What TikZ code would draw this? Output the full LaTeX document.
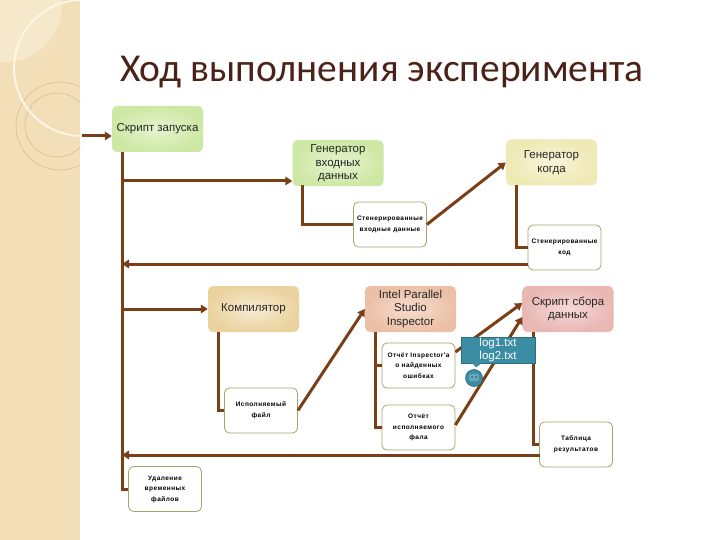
\documentclass[tikz,border=0pt]{standalone}
\usepackage{fontspec}
\setmainfont{Liberation Sans}
\newfontfamily\titlefont{Carlito}
\newfontfamily\smallfont[LetterSpace=7]{Liberation Sans}
\usetikzlibrary{arrows.meta,calc}
\definecolor{brn}{HTML}{7B3F17}
\definecolor{strip}{HTML}{F2DFB8}
\definecolor{stripdark}{HTML}{DCC39A}
\definecolor{cream}{HTML}{FDF6E6}
\definecolor{titlec}{HTML}{4A2217}
\definecolor{olivebd}{HTML}{A3A56C}
\definecolor{cgreen}{HTML}{CDE8A4}
\definecolor{cgreenl}{HTML}{E6F4CF}
\definecolor{cyel}{HTML}{EFE9B4}
\definecolor{cyell}{HTML}{F8F5DA}
\definecolor{ctan}{HTML}{EBD3A0}
\definecolor{ctanl}{HTML}{F7EBD2}
\definecolor{csal}{HTML}{ECC0A6}
\definecolor{csall}{HTML}{F6DDCF}
\definecolor{cpink}{HTML}{E9B7B4}
\definecolor{cpinkl}{HTML}{F5D9D6}
\definecolor{teal1}{HTML}{3B8DA4}
\definecolor{teal2}{HTML}{2A6E81}
\tikzset{
  big/.style={rounded corners=5pt, minimum width=91pt, minimum height=46pt,
    align=center, inner sep=2pt, text=black!85,
    font=\fontsize{11.5}{13.5}\selectfont},
  small/.style={draw=olivebd, line width=0.8pt, rounded corners=5pt, fill=white,
    minimum width=73pt, minimum height=45pt, align=center, inner sep=1pt,
    font=\smallfont\bfseries\fontsize{6.5}{10.5}\selectfont},
  conn/.style={draw=brn, line width=3pt},
  arr/.style={conn, -{Triangle[length=7pt,width=8.5pt]}},
}
\begin{document}
\begin{tikzpicture}[x=1pt,y=-1pt]
\useasboundingbox (0,0) rectangle (720,540);
\fill[white] (0,0) rectangle (720,540);
% decorative strip
\fill[strip] (0,0) rectangle (80,540);
\begin{scope}
  \clip (0,0) rectangle (80,540);
  \fill[cream,opacity=0.4] (5,5) circle (57);
  \draw[stripdark,line width=0.8pt] (60,126) circle (44);
  \draw[stripdark,line width=0.8pt] (57,125) circle (32);
  \draw[cream,line width=2pt] (82,68) circle (68);
\end{scope}
% title
\node[anchor=base west, text=titlec, inner sep=0pt,
  font=\titlefont\fontsize{39.5}{44}\selectfont] (title) at (120,82)
  {Ход выполнения эксперимента};
% main boxes
\node[big, inner color=cgreenl, outer color=cgreen] (zap) at (157.5,129) {Скрипт запуска};
\node[big, inner color=cgreenl, outer color=cgreen, anchor=north] (gen1) at (338,140) {Генератор\\входных\\данных};
\node[big, inner color=cyell, outer color=cyel] (gen2) at (551.5,162.5) {Генератор\\когда};
\node[big, inner color=ctanl, outer color=ctan] (comp) at (253.5,309) {Компилятор};
\node[big, inner color=csall, outer color=csal] (intel) at (410.5,309) {Intel Parallel\\Studio\\Inspector};
\node[big, inner color=cpinkl, outer color=cpink] (sbor) at (568,309) {Скрипт сбора\\данных};
% small boxes
\node[small] (sd1) at (390,224.5) {Стенерированные\\входные данные};
\node[small] (sd2) at (564.5,247.5) {Стенерированные\\код};
\node[small] (exe) at (261,410.5) {Исполняемый\\файл};
\node[small] (rep1) at (418.5,365.5) {Отчёт Inspector'a\\о найденных\\ошибках};
\node[small] (rep2) at (418.5,427.5) {Отчёт\\исполняемого\\фала};
\node[small] (tab) at (576,444.5) {Таблица\\результатов};
\node[small] (del) at (165,489) {Удаление\\временных\\файлов};
% connectors
\coordinate (entry) at (82,136);
\draw[arr] (entry) -- (entry -| zap.west);
\coordinate (tTop) at (122,152);
\coordinate (tA) at (122,181);
\coordinate (tB) at (122,309);
\draw[conn] (tTop) |- (del.west);
\draw[arr] (tA) -- (tA -| gen1.west);
\draw[arr] (tB) -- (comp.west);
\coordinate (g1d) at (302,185);
\draw[conn] (g1d) |- (sd1.west);
\draw[arr] (sd1.east) -- (gen2.west);
\coordinate (g2d) at (516,185);
\draw[conn] (g2d) |- (sd2.west);
\coordinate (r1) at (528,264);
\draw[arr] (r1) -- (r1 -| tTop);
\coordinate (cd) at (218,332);
\draw[conn] (cd) |- (exe.west);
\draw[arr] (exe.east) -- (intel.west);
\coordinate (id) at (375,332);
\draw[conn] (id) |- (rep2.west);
\draw[conn] (id |- rep1.west) -- (rep1.west);
\draw[arr] ([yshift=13.5pt]rep1.east) -- ([yshift=6pt]sbor.west);
\draw[arr] ([yshift=2.5pt]rep2.east) -- ([yshift=-8pt]sbor.west);
\coordinate (sd) at (533,332);
\draw[conn] (sd) |- (tab.west);
\coordinate (r2) at (540,455);
\draw[arr] (r2) -- (r2 -| tTop);
% callout
\node[fill=teal1, draw=teal2, line width=0.8pt, minimum width=74pt, minimum height=26pt,
  inner sep=1pt, align=center, text=white,
  font=\fontsize{11.5}{13}\selectfont] (logs) at (498,350) {log1.txt\\log2.txt};
\fill[teal1] ([xshift=-26pt,yshift=0.4pt]logs.south) -- ([xshift=-22pt,yshift=-4pt]logs.south) -- ([xshift=-16pt,yshift=0.4pt]logs.south) -- cycle;
\node[circle, fill=teal1, draw=teal2, line width=0.6pt, minimum size=17pt, inner sep=0pt] (face) at (474,378) {};
\fill[teal1!60!white, opacity=0.6, rounded corners=2pt] ([xshift=-5pt,yshift=-3pt]face.center) rectangle ([xshift=5pt,yshift=4pt]face.center);
\fill[teal2] ([xshift=-2pt,yshift=1pt]face.center) circle (1pt);
\fill[teal2] ([xshift=2pt,yshift=1pt]face.center) circle (1pt);
\end{tikzpicture}
\end{document}
